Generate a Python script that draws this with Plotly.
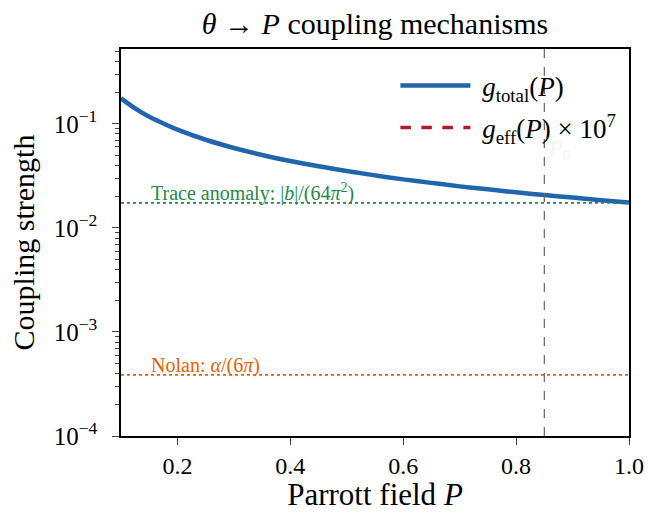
import math
import plotly.graph_objects as go

# Data
P = [0.10, 0.125, 0.15, 0.175, 0.20, 0.25, 0.30, 0.35, 0.40, 0.45, 0.50, 0.55, 0.60,
     0.65, 0.70, 0.75, 0.80, 0.85, 0.90, 0.95, 1.00]
g_total = [0.176, 0.141, 0.117, 0.101, 0.088, 0.0704, 0.0587, 0.0503, 0.0440, 0.0391,
           0.0352, 0.0320, 0.0293, 0.0271, 0.0251, 0.0235, 0.0220, 0.0207, 0.0196,
           0.0185, 0.0176]
trace_anomaly = 0.0174
nolan = 3.87e-4
P0 = 0.85
y_tickvals = [1e-4, 1e-3, 1e-2, 1e-1]
y_ticktext = ["10<sup>−4</sup>", "10<sup>−3</sup>", "10<sup>−2</sup>", "10<sup>−1</sup>"]
x_tickvals = [0.2, 0.4, 0.6, 0.8, 1.0]
x_ticktext = ["0.2", "0.4", "0.6", "0.8", "1.0"]
minor_vals = [m * 10 ** e for e in (-4, -3, -2, -1) for m in range(2, 10)]

BLUE = "#2166ac"
RED = "#b2182b"
GREEN = "#238b45"
ORANGE = "#e66101"
FONT = "Liberation Serif"

fig = go.Figure()
fig.add_trace(go.Scatter(x=P, y=g_total, mode="lines", line=dict(color=BLUE, width=4.5, shape="spline"),
                         name="\u00a0<i>g</i><sub>total</sub>(<i>P</i>)", legendgroup="a"))
fig.add_trace(go.Scatter(x=[None], y=[None], mode="lines", line=dict(color=RED, width=3.5, dash="dash"),
                         name="\u00a0<i>g</i><sub>eff</sub>(<i>P</i>) × 10<sup>7</sup>", legendgroup="b"))
fig.add_trace(go.Scatter(x=[0.1, 1.0], y=[trace_anomaly, trace_anomaly], mode="lines",
                         line=dict(color=GREEN, width=1.6, dash="dot"), showlegend=False))
fig.add_trace(go.Scatter(x=[0.1, 1.0], y=[nolan, nolan], mode="lines",
                         line=dict(color=ORANGE, width=1.6, dash="dot"), showlegend=False))

fig.add_shape(type="line", x0=P0, x1=P0, xref="x", y0=0, y1=1, yref="paper",
              line=dict(color="#666666", width=1.2, dash="dash"))

fig.add_annotation(x=0.15, y=math.log10(trace_anomaly), xref="x", yref="y", xanchor="left", yanchor="bottom",
                   text="Trace anomaly: |<i>b</i>|/(64<i>π</i><sup>2</sup>)", showarrow=False,
                   font=dict(family=FONT, size=20, color=GREEN), yshift=-4)
fig.add_annotation(x=0.15, y=math.log10(nolan), xref="x", yref="y", xanchor="left", yanchor="bottom",
                   text="Nolan: <i>α</i>/(6<i>π</i>)", showarrow=False,
                   font=dict(family=FONT, size=20, color=ORANGE), yshift=-4)
fig.add_annotation(x=P0, y=math.log10(0.058), xref="x", yref="y", xanchor="left", yanchor="middle",
                   text="<i>P</i><sub>0</sub>", showarrow=False,
                   font=dict(family=FONT, size=22, color="#f2f2f2"), xshift=2)

fig.update_layout(
    width=648, height=512,
    margin=dict(l=121, r=19, t=49, b=76),
    paper_bgcolor="white", plot_bgcolor="white",
    font=dict(family=FONT, size=24, color="black"),
    title=dict(text="<i>θ</i> → <i>P</i> coupling mechanisms", x=0.5, xref="paper", xanchor="center",
               y=0.955, yref="container", yanchor="middle", font=dict(size=30)),
    legend=dict(x=0.985, y=0.968, xanchor="right", yanchor="top", bgcolor="rgba(255,255,255,0)",
                font=dict(size=27), itemwidth=70, traceorder="grouped", tracegroupgap=4),
)
fig.update_xaxes(range=[0.1, 1.0], tickvals=x_tickvals, ticktext=x_ticktext, ticks="outside",
                 ticklen=7, tickwidth=1.3, showline=True, linecolor="black", linewidth=1.5, mirror=True,
                 showgrid=False, zeroline=False, automargin=False,
                 title=dict(text="Parrott field <i>P</i>", font=dict(size=31), standoff=6))
fig.update_yaxes(type="log", range=[-4, -0.28], tickvals=y_tickvals, ticktext=y_ticktext, ticks="outside",
                 ticklen=7, tickwidth=1.3, showline=True, linecolor="black", linewidth=1.5, mirror=True,
                 showgrid=False, zeroline=False, automargin=False, ticklabelstandoff=10,
                 tickfont=dict(size=25),
                 minor=dict(tickvals=minor_vals, ticks="outside", ticklen=4, tickwidth=1.1, showgrid=False),
                 title=dict(text="Coupling strength", font=dict(size=30), standoff=10))

fig.write_html("out.html", config={"displayModeBar": False},
               post_script="document.body.style.margin='0';document.body.style.padding='0';")
